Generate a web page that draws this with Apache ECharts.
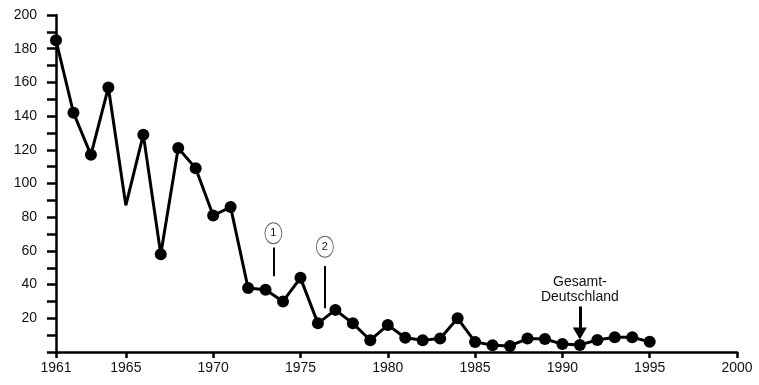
<!DOCTYPE html>
<html><head><meta charset="utf-8">
<script src="https://cdn.jsdelivr.net/npm/echarts@6/dist/echarts.min.js"></script>
<style>html,body{margin:0;padding:0;background:#fff}#c{width:759px;height:385px}</style>
</head><body><div id="c"></div>
<script>
const years = [1961,1962,1963,1964,1965,1966,1967,1968,1969,1970,1971,1972,1973,1974,1975,1976,1977,1978,1979,1980,1981,1982,1983,1984,1985,1986,1987,1988,1989,1990,1991,1992,1993,1994,1995];
const values = [185,142,117,157,87,129,58,121,109,81,86,38,37,30,44,17,25,17,7,16,8.5,7,8,20,6,4,3.6,8,7.7,4.7,4.2,7.1,8.7,8.7,6.1];
const noMarkerYears = [1965];
const xTickLabels = [1961,1965,1970,1975,1980,1985,1990,1995,2000];
const yLabelValues = [20,40,60,80,100,120,140,160,180,200];
const annoLines = [[1973.45, 62, 45], [1976.4, 51, 26]];
const annoCircles = [['1', 1973.45, 70.5], ['2', 1976.4, 62.5]];
const arrowSpec = {x: 1991, yFrom: 27, yTo: 11};
const noteText = 'Gesamt-\nDeutschland';
const notePos = [1991, 37];

const FONT = 'Liberation Sans';
const chart = echarts.init(document.getElementById('c'), null, {renderer:'canvas'});
const data = years.map((y,i)=>{
  const d = {value:[y, values[i]]};
  if (noMarkerYears.includes(y)) { d.symbol = 'none'; }
  return d;
});
chart.setOption({
  animation:false,
  grid:{left:56, right:22, top:15, bottom:33, containLabel:false},
  xAxis:{
    type:'value', min:1961, max:2000,
    splitLine:{show:false},
    axisLine:{lineStyle:{color:'#000', width:2.5}},
    axisTick:{show:true, inside:false, length:6, lineStyle:{color:'#000', width:2.5}, customValues: xTickLabels},
    axisLabel:{customValues: xTickLabels, color:'#111', fontFamily:FONT, fontSize:14, margin:9, formatter:v=>String(v)}
  },
  yAxis:{
    type:'value', min:0, max:200, interval:10,
    splitLine:{show:false},
    axisLine:{show:true, lineStyle:{color:'#000', width:2.5}},
    axisTick:{show:true, length:9, lineStyle:{color:'#000', width:2.5}},
    axisLabel:{color:'#111', fontFamily:FONT, fontSize:14, margin:19,
      formatter:v=> yLabelValues.includes(v) ? String(v) : ''}
  },
  series:[{
    type:'line', data:data, symbol:'circle', symbolSize:12,
    lineStyle:{color:'#000', width:3},
    itemStyle:{color:'#000'},
    markLine:{
      silent:true, animation:false,
      label:{show:false},
      lineStyle:{color:'#000', width:2, type:'solid'},
      symbol:['none','none'],
      data:[
        ...annoLines.map(l=>[{coord:[l[0], l[1]], symbol:'none'},{coord:[l[0], l[2]], symbol:'none'}]),
        [{coord:[arrowSpec.x, arrowSpec.yFrom], symbol:'none', lineStyle:{width:3}},
         {coord:[arrowSpec.x, arrowSpec.yTo], symbol:'triangle', symbolSize:[14,12], symbolRotate:180, lineStyle:{width:3}}]
      ]
    },
    markPoint:{
      silent:true, animation:false,
      data:[
        ...annoCircles.map(c=>({coord:[c[1], c[2]], value:c[0], symbol:'circle', symbolSize:[17,21],
          itemStyle:{color:'#fff', borderColor:'#666', borderWidth:1},
          label:{show:true, formatter:c[0], color:'#111', fontFamily:FONT, fontSize:11}})),
        {coord:notePos, symbol:'circle', symbolSize:0, value:0,
          label:{show:true, formatter:noteText, color:'#111', fontFamily:FONT, fontSize:14, lineHeight:15, align:'center'}}
      ]
    }
  }]
});
</script></body></html>
